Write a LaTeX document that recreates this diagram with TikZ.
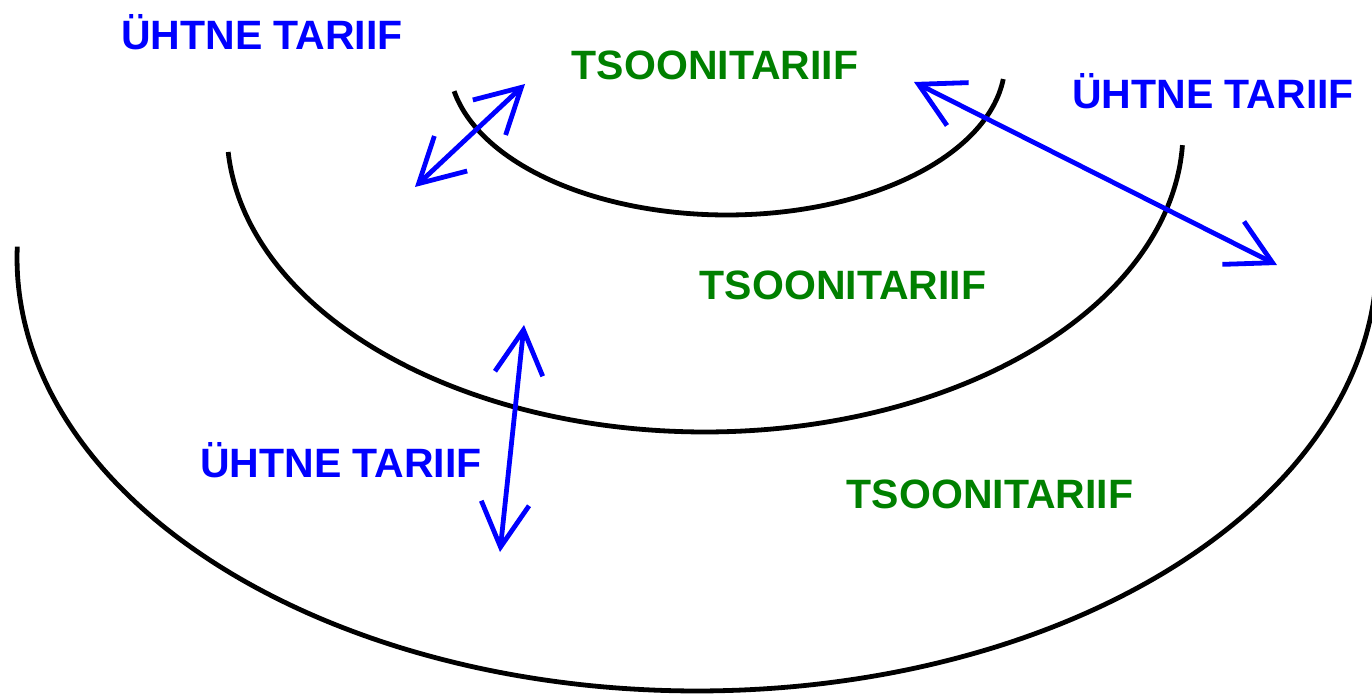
\documentclass[tikz,border=0pt]{standalone}
\usepackage{fontspec}
\setmainfont{Liberation Sans}
\usetikzlibrary{arrows.meta}
\definecolor{zonegreen}{RGB}{0,128,0}
\definecolor{flatblue}{RGB}{0,0,255}
\begin{document}
\begin{tikzpicture}[x=0.5pt,y=-0.5pt,
  ring/.style={line width=2.4pt, black},
  flow/.style={line width=2.4pt, flatblue, line cap=round,
    {Straight Barb[length=22pt,width=24pt]}-{Straight Barb[length=22pt,width=24pt]}},
  label/.style={font=\bfseries\fontsize{20.5}{24}\selectfont, anchor=base, inner sep=0pt},
  flat/.style={label, text=flatblue},
  zone/.style={label, text=zonegreen}]
\useasboundingbox (0,0) rectangle (1372,695);
\clip (0,0) rectangle (1372,695);
% rings
\draw[ring] plot[domain=169:6.4, samples=120] ({727+278*cos(\x)},{62+153*sin(\x)});
\draw[ring] plot[domain=176:2.7, samples=160] ({705+478*cos(\x)},{131+301*sin(\x)});
\draw[ring] plot[domain=181.5:3, samples=200] ({697+680*cos(\x)},{258+433*sin(\x)});
% labels
\node[flat] (u1) at (262,50) {ÜHTNE TARIIF};
\node[zone] (z1) at (715,80) {TSOONITARIIF};
\node[flat] (u2) at (1213,109) {ÜHTNE TARIIF};
\node[zone] (z2) at (843,300) {TSOONITARIIF};
\node[flat] (u3) at (341,478) {ÜHTNE TARIIF};
\node[zone] (z3) at (990,509) {TSOONITARIIF};
% arrows
\coordinate (a1s) at (415,187);
\coordinate (a1e) at (525,84);
\coordinate (a2s) at (914,82);
\coordinate (a2e) at (1277,265);
\coordinate (a3s) at (524,325);
\coordinate (a3e) at (500,552);
\draw[flow] (a1s) -- (a1e);
\draw[flow] (a2s) -- (a2e);
\draw[flow] (a3s) -- (a3e);
\end{tikzpicture}
\end{document}
